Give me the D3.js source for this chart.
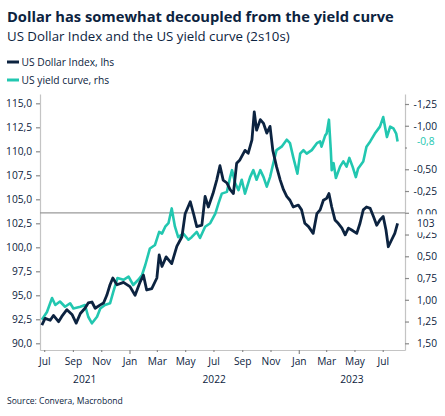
<!DOCTYPE html>
<html>
<head>
<meta charset="utf-8">
<script src="https://cdn.jsdelivr.net/npm/d3@7"></script>
<style>
    body { margin: 0; background: #fff; }
    svg { font-family: 'Open Sans', 'Noto Sans', sans-serif; }
</style>
</head>
<body>
<svg class="chart" width="445" height="416"></svg>
<script>
// US Dollar Index (lhs)
var dollarIndex = [
    ['2021-06-26', 91.9], ['2021-07-03', 92.6], ['2021-07-14', 92.4], ['2021-07-21', 92.9],
    ['2021-08-01', 92.25], ['2021-08-08', 92.8], ['2021-08-19', 93.5], ['2021-08-30', 93.0],
    ['2021-09-08', 92.1], ['2021-09-17', 93.1], ['2021-09-27', 93.65], ['2021-10-04', 94.2],
    ['2021-10-12', 94.3], ['2021-10-19', 93.65], ['2021-10-30', 94.0], ['2021-11-06', 94.2],
    ['2021-11-13', 95.0], ['2021-11-20', 96.1], ['2021-11-26', 96.8], ['2021-12-05', 96.1],
    ['2021-12-19', 96.35], ['2022-01-02', 95.9], ['2022-01-13', 95.0], ['2022-01-24', 96.4],
    ['2022-01-31', 97.1], ['2022-02-07', 95.55], ['2022-02-18', 95.7], ['2022-03-01', 96.8],
    ['2022-03-06', 99.2], ['2022-03-12', 98.0], ['2022-03-21', 99.0],
    ['2022-04-02', 98.3], ['2022-04-13', 100.1], ['2022-04-24', 101.1], ['2022-05-01', 103.5],
    ['2022-05-12', 104.75], ['2022-05-19', 103.5], ['2022-05-26', 102.15], ['2022-06-06', 102.3],
    ['2022-06-13', 105.3], ['2022-06-20', 104.2], ['2022-06-30', 105.6], ['2022-07-08', 107.0],
    ['2022-07-15', 108.5], ['2022-07-22', 107.0], ['2022-07-30', 106.7], ['2022-08-06', 106.0],
    ['2022-08-13', 105.6], ['2022-08-20', 108.75], ['2022-08-27', 109.1], ['2022-09-07', 110.1],
    ['2022-09-14', 109.8], ['2022-09-22', 111.2], ['2022-09-27', 114.1], ['2022-10-02', 112.2],
    ['2022-10-10', 113.3], ['2022-10-17', 112.9], ['2022-10-24', 111.9], ['2022-10-31', 112.6],
    ['2022-11-06', 110.1], ['2022-11-14', 108.4], ['2022-11-22', 107.0], ['2022-11-29', 106.0],
    ['2022-12-06', 105.3], ['2022-12-13', 104.9], ['2022-12-20', 104.2], ['2022-12-31', 104.4],
    ['2023-01-07', 103.9], ['2023-01-14', 102.5], ['2023-01-22', 102.15], ['2023-02-01', 101.45],
    ['2023-02-09', 103.5], ['2023-02-16', 103.9], ['2023-02-23', 104.9], ['2023-03-02', 105.1],
    ['2023-03-07', 105.6], ['2023-03-13', 104.2], ['2023-03-20', 102.85], ['2023-03-27', 102.5],
    ['2023-04-04', 102.0], ['2023-04-11', 101.3], ['2023-04-18', 102.0], ['2023-04-25', 101.8],
    ['2023-05-06', 101.45], ['2023-05-13', 102.5], ['2023-05-20', 103.9], ['2023-05-27', 104.2],
    ['2023-06-04', 104.05], ['2023-06-11', 103.2], ['2023-06-18', 102.3], ['2023-06-25', 102.85],
    ['2023-07-02', 103.2], ['2023-07-08', 101.8], ['2023-07-13', 100.06], ['2023-07-20', 100.76],
    ['2023-07-27', 101.45], ['2023-08-02', 102.5]
];

// US yield curve 2s10s (rhs, inverted)
var yieldCurve = [
    ['2021-06-26', 1.23], ['2021-07-07', 1.14], ['2021-07-18', 0.98], ['2021-07-25', 1.06],
    ['2021-08-04', 1.02], ['2021-08-15', 1.08], ['2021-08-26', 1.04], ['2021-09-02', 1.10],
    ['2021-09-17', 1.08], ['2021-09-27', 1.06], ['2021-10-04', 1.195], ['2021-10-12', 1.27],
    ['2021-10-23', 1.195], ['2021-10-30', 1.10], ['2021-11-09', 1.06], ['2021-11-20', 1.04],
    ['2021-11-27', 0.91], ['2021-12-06', 0.75], ['2021-12-19', 0.77], ['2021-12-30', 0.735],
    ['2022-01-09', 0.83], ['2022-01-20', 0.77], ['2022-01-28', 0.715], ['2022-02-04', 0.60],
    ['2022-02-14', 0.41], ['2022-02-25', 0.37], ['2022-03-06', 0.22], ['2022-03-12', 0.24],
    ['2022-03-19', 0.16],
    ['2022-03-26', 0.12], ['2022-04-02', -0.05], ['2022-04-09', 0.16], ['2022-04-16', 0.28],
    ['2022-04-27', 0.24], ['2022-05-08', 0.31], ['2022-05-15', 0.28], ['2022-05-26', 0.22],
    ['2022-06-02', 0.29], ['2022-06-13', 0.16], ['2022-06-24', 0.12], ['2022-07-05', 0.01],
    ['2022-07-12', -0.11], ['2022-07-19', -0.22], ['2022-07-30', -0.24], ['2022-08-06', -0.41],
    ['2022-08-10', -0.49], ['2022-08-17', -0.34], ['2022-08-24', -0.26], ['2022-08-31', -0.38],
    ['2022-09-07', -0.22], ['2022-09-18', -0.41], ['2022-09-25', -0.49], ['2022-10-02', -0.38],
    ['2022-10-10', -0.49], ['2022-10-17', -0.41], ['2022-10-24', -0.30], ['2022-10-31', -0.41],
    ['2022-11-07', -0.57], ['2022-11-14', -0.72], ['2022-11-25', -0.76], ['2022-12-06', -0.84],
    ['2022-12-13', -0.80], ['2022-12-20', -0.64], ['2022-12-29', -0.45], ['2023-01-04', -0.68],
    ['2023-01-11', -0.72], ['2023-01-18', -0.68], ['2023-01-29', -0.72], ['2023-02-09', -0.80],
    ['2023-02-16', -0.82], ['2023-02-19', -0.76], ['2023-02-27', -0.89], ['2023-03-02', -0.91],
    ['2023-03-07', -1.07], ['2023-03-11', -0.72], ['2023-03-13', -0.49], ['2023-03-17', -0.57],
    ['2023-03-22', -0.40], ['2023-03-31', -0.53], ['2023-04-07', -0.59], ['2023-04-14', -0.53],
    ['2023-04-20', -0.63], ['2023-04-27', -0.53], ['2023-05-04', -0.41], ['2023-05-09', -0.51],
    ['2023-05-20', -0.59], ['2023-05-27', -0.76], ['2023-06-04', -0.82], ['2023-06-14', -0.91],
    ['2023-06-25', -0.99], ['2023-07-02', -1.10], ['2023-07-10', -0.87], ['2023-07-17', -0.99],
    ['2023-07-24', -0.97], ['2023-07-30', -0.91], ['2023-08-02', -0.82]
];

var leftTicks = [90, 92.5, 95, 97.5, 100, 102.5, 105, 107.5, 110, 112.5, 115];
var rightTicks = [-1.25, -1, -0.75, -0.5, -0.25, 0, 0.25, 0.5, 0.75, 1, 1.25, 1.5];
var yearLabels = ['2021', '2022', '2023'];
var seriesNames = ['US Dollar Index, lhs', 'US yield curve, rhs'];

(function() {

    var p = {};
        p.title = 'Dollar has somewhat decoupled from the yield curve';
        p.subtitle = 'US Dollar Index and the US yield curve (2s10s)';
        p.source = 'Source: Convera, Macrobond';
        p.left = 40;
        p.right = 405;
        p.top = 94;
        p.bottom = 350;
        p.textColor = '#0c2340';
        p.axisColor = '#c4c4c4';
        p.tickColor = '#8a8a8a';
        p.dollar = { color: '#0c2340', width: 2.8 };
        p.curve = { color: '#22c7b0', width: 2.6 };
        p.fontSize = 10.2;

    var parse = d3.timeParse('%Y-%m-%d');
    var loc = d3.formatLocale({ decimal: ',', thousands: '.', grouping: [3], currency: ['', ''], minus: '-' });

    var dollar = dollarIndex.map(function(d) { return { date: parse(d[0]), value: d[1] }; });
    var curve = yieldCurve.map(function(d) { return { date: parse(d[0]), value: d[1] }; });

    // scale a text's font size so that it spans the given width
    var fit = function(sel, width) {
        var w = sel.node().getComputedTextLength();
        sel.attr('font-size', +sel.attr('font-size') * width / w);
        return sel;
    };

    var svg = d3.select('.chart');

    //-----  Titles  -----//
    fit(svg.append('text')
        .text(p.title)
        .attr('x', 7).attr('y', 22)
        .attr('font-size', 15).attr('font-weight', 700)
        .attr('fill', p.textColor), 387);
    fit(svg.append('text')
        .text(p.subtitle)
        .attr('x', 7).attr('y', 41)
        .attr('font-size', 12.5)
        .attr('fill', p.textColor), 283);

    //-----  Legend  -----//
    var legendColors = [p.dollar.color, p.curve.color];
    var legendWidths = [92.6, 87.7];
    for (var n = 0; n < seriesNames.length; n++) {
        var ly = 62 + n * 18;
        svg.append('line')
            .attr('x1', 7).attr('x2', 19)
            .attr('y1', ly).attr('y2', ly)
            .attr('stroke', legendColors[n]).attr('stroke-width', 3);
        fit(svg.append('text')
            .text(seriesNames[n])
            .attr('x', 21.5).attr('y', ly + 3.8)
            .attr('font-size', p.fontSize)
            .attr('fill', p.textColor), legendWidths[n]);
    }

    //-----  Scales  -----//
    var x = d3.scaleTime()
        .domain([parse('2021-06-22'), parse('2023-08-18')])
        .range([p.left, p.right]);
    var yL = d3.scaleLinear()
        .domain([89.3, 115.97])
        .range([p.bottom, p.top]);
    var yR = d3.scaleLinear()
        .domain([1.577, -1.365])
        .range([p.bottom, p.top]);

    //-----  Last value labels (computed early, they hide axis labels under them)  -----//
    var lastLabels = [
        { y: yR(curve[curve.length - 1].value), text: loc.format('.1f')(curve[curve.length - 1].value), color: p.curve.color },
        { y: yL(dollar[dollar.length - 1].value), text: d3.format('.0f')(dollar[dollar.length - 1].value), color: p.dollar.color }
    ];

    //-----  Left Axis  -----//
    var leftAxis = svg.append('g')
        .attr('class', 'yaxis-left')
        .attr('transform', 'translate(' + p.left + ',0)')
        .call(d3.axisLeft(yL)
            .tickValues(leftTicks)
            .tickSizeInner(4).tickSizeOuter(0)
            .tickPadding(4)
            .tickFormat(loc.format('.1f')));

    //-----  Right Axis  -----//
    var rightAxis = svg.append('g')
        .attr('class', 'yaxis-right')
        .attr('transform', 'translate(' + p.right + ',0)')
        .call(d3.axisRight(yR)
            .tickValues(rightTicks)
            .tickSizeInner(4).tickSizeOuter(0)
            .tickFormat(loc.format('.2f')));
    rightAxis.selectAll('.tick text')
        .attr('x', 32)
        .attr('text-anchor', 'end');
    rightAxis.selectAll('.tick')
        .each(function(v) {
            var hidden = lastLabels.some(function(l) { return Math.abs(yR(v) - l.y) < 7; });
            if (hidden) d3.select(this).select('text').remove();
        });

    //-----  X Axis  -----//
    var xAxis = svg.append('g')
        .attr('class', 'xaxis')
        .attr('transform', 'translate(0,' + p.bottom + ')')
        .call(d3.axisBottom(x)
            .ticks(d3.timeMonth.every(2))
            .tickSizeInner(2).tickSizeOuter(0)
            .tickPadding(6)
            .tickFormat(d3.timeFormat('%b')));
    xAxis.selectAll('.tick line')
        .attr('y2', function(d) { return d.getMonth() === 0 ? 4 : 2; });

    [leftAxis, rightAxis, xAxis].forEach(function(a) {
        a.select('.domain').attr('stroke', p.axisColor).attr('stroke-width', 1.2);
        a.selectAll('.tick line').attr('stroke', p.tickColor).attr('stroke-width', 1.2);
        a.selectAll('.tick text')
            .attr('fill', p.textColor)
            .attr('font-size', p.fontSize);
        a.attr('font-family', null).attr('font-size', null);
    });

    //-----  Year labels  -----//
    var xd = x.domain();
    yearLabels.forEach(function(yr) {
        var a = d3.max([parse(yr + '-01-01'), xd[0]]);
        var b = d3.min([parse((+yr + 1) + '-01-01'), xd[1]]);
        svg.append('text')
            .text(yr)
            .attr('x', (x(a) + x(b)) / 2)
            .attr('y', p.bottom + 33)
            .attr('text-anchor', 'middle')
            .attr('font-size', p.fontSize)
            .attr('fill', p.textColor);
    });

    //-----  Zero line of the yield curve  -----//
    svg.append('line')
        .attr('x1', p.left).attr('x2', p.right)
        .attr('y1', yR(0)).attr('y2', yR(0))
        .attr('stroke', '#9a9a9a').attr('stroke-width', 1.3);

    //-----  Lines  -----//
    var curveLine = d3.line()
        .x(function(d) { return x(d.date); })
        .y(function(d) { return yR(d.value); });
    var dollarLine = d3.line()
        .x(function(d) { return x(d.date); })
        .y(function(d) { return yL(d.value); });

    svg.append('path')
        .datum(curve)
        .attr('d', curveLine)
        .attr('fill', 'none')
        .attr('stroke', p.curve.color)
        .attr('stroke-width', p.curve.width)
        .attr('stroke-linejoin', 'round');
    svg.append('path')
        .datum(dollar)
        .attr('d', dollarLine)
        .attr('fill', 'none')
        .attr('stroke', p.dollar.color)
        .attr('stroke-width', p.dollar.width)
        .attr('stroke-linejoin', 'round');

    // white boxes behind the last values cover the axis labels they sit on
    lastLabels.forEach(function(l) {
        svg.append('rect')
            .attr('x', p.right + 2).attr('y', l.y - 9)
            .attr('width', 38).attr('height', 18)
            .attr('fill', '#fff');
        svg.append('text')
            .text(l.text)
            .attr('x', 417).attr('y', l.y + 3.6)
            .attr('font-size', p.fontSize)
            .attr('fill', l.color);
    });

    //-----  Source  -----//
    fit(svg.append('text')
        .text(p.source)
        .attr('x', 7).attr('y', 404)
        .attr('font-size', 10)
        .attr('fill', p.textColor), 116);

})();
</script>
</body>
</html>
